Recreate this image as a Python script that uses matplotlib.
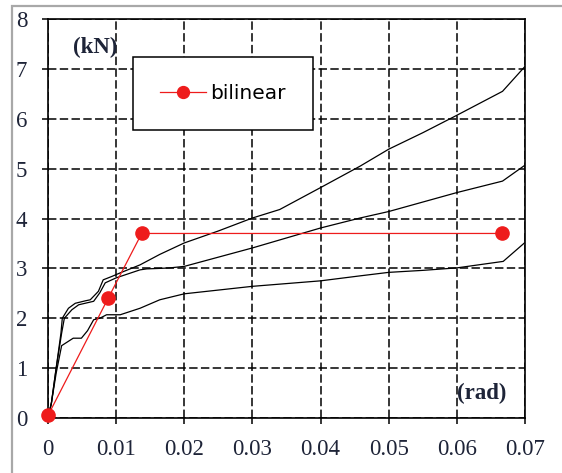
import matplotlib
matplotlib.use('Agg')
import matplotlib.pyplot as plt
from matplotlib.patches import Rectangle

# rotation (rad) vs load (kN) for three test specimens
rot_a = [0, 0.0005, 0.0012, 0.0019, 0.0021, 0.003, 0.004, 0.0055, 0.0062, 0.0074, 0.0081, 0.0094,
         0.0106, 0.0135, 0.0164, 0.02, 0.025, 0.03, 0.034, 0.04, 0.0458, 0.05, 0.055, 0.06, 0.0667, 0.07]
load_a = [0, 0.3, 1.0, 1.7, 2.0, 2.2, 2.3, 2.35, 2.37, 2.54, 2.77, 2.84,
          2.91, 3.07, 3.28, 3.51, 3.75, 4.01, 4.18, 4.62, 5.05, 5.39, 5.72, 6.07, 6.55, 7.05]

rot_b = [0, 0.0005, 0.0012, 0.002, 0.0024, 0.0035, 0.0045, 0.0067, 0.0076, 0.0084, 0.01, 0.0135,
         0.0145, 0.0165, 0.0179, 0.02, 0.03, 0.04, 0.0458, 0.05, 0.06, 0.0667, 0.07]
load_b = [0, 0.3, 1.0, 1.7, 2.0, 2.17, 2.27, 2.34, 2.51, 2.71, 2.81, 2.97,
          2.99, 3.0, 3.01, 3.04, 3.41, 3.81, 4.01, 4.14, 4.52, 4.75, 5.07]

rot_c = [0, 0.0005, 0.0012, 0.002, 0.0037, 0.0049, 0.0058, 0.0067, 0.0076, 0.0086, 0.0106, 0.0135,
         0.0164, 0.02, 0.03, 0.04, 0.0458, 0.05, 0.055, 0.06, 0.0668, 0.07]
load_c = [0, 0.3, 0.9, 1.45, 1.6, 1.6, 1.75, 1.97, 2.0, 2.07, 2.07, 2.2,
          2.37, 2.49, 2.64, 2.75, 2.85, 2.92, 2.96, 3.01, 3.14, 3.52]

# bilinear idealisation
bil_rot = [0, 0.00886, 0.01375, 0.0666]
bil_load = [0.05, 2.41, 3.7, 3.7]

xticks = [0, 0.01, 0.02, 0.03, 0.04, 0.05, 0.06, 0.07]
xlabels = ['0', '0.01', '0.02', '0.03', '0.04', '0.05', '0.06', '0.07']
yticks = [0, 1, 2, 3, 4, 5, 6, 7, 8]

fig = plt.figure(figsize=(5.62, 4.73), dpi=100)
ax = fig.add_axes([0.0854, 0.1163, 0.8488, 0.8435])

# grey outer frame
fig.add_artist(Rectangle((12/562, -0.1), 1.0, 1.1 - 6/473, transform=fig.transFigure,
                         fill=False, edgecolor='#a8a8a8', linewidth=1.6))

ax.plot(rot_a, load_a, color='black', lw=0.9, zorder=3)
ax.plot(rot_b, load_b, color='black', lw=0.9, zorder=3)
ax.plot(rot_c, load_c, color='black', lw=0.9, zorder=3)
ax.plot(bil_rot, bil_load, color='#ee1c1c', lw=0.9, marker='o', markersize=9.5,
        label='bilinear', zorder=4, clip_on=False)

ax.set_xlim(0, 0.07)
ax.set_ylim(0, 8)
ax.set_xticks(xticks)
ax.set_xticklabels(xlabels)
ax.set_yticks(yticks)

tick_color = '#1e2438'
ax.tick_params(direction='out', length=4, width=1.1, pad=11, colors='black',
               labelcolor=tick_color, labelsize=16.5)
for lab in ax.get_xticklabels() + ax.get_yticklabels():
    lab.set_family('Liberation Serif')

ax.grid(True, color='black', lw=1.1, linestyle=(0, (5.5, 2.2)))
ax.set_axisbelow(True)
for s in ax.spines.values():
    s.set_linewidth(1.2)

ax.text(0.0069, 7.42, '(kN)', family='Liberation Serif', weight='bold', fontsize=16.5,
        color=tick_color, ha='center', va='center')
ax.text(0.0637, 0.5, '(rad)', family='Liberation Serif', weight='bold', fontsize=16.5,
        color=tick_color, ha='center', va='center', zorder=5)

leg = ax.legend(loc='upper left', bbox_to_anchor=(0.178, 0.905), borderaxespad=0,
                fancybox=False, framealpha=1, edgecolor='black', borderpad=1.35,
                handlelength=2.3, handletextpad=0.2, markerscale=0.9,
                prop={'family': 'DejaVu Sans', 'size': 14.5})
leg.get_frame().set_linewidth(1.1)
leg.set_zorder(6)

fig.savefig('out.png', dpi=100)
